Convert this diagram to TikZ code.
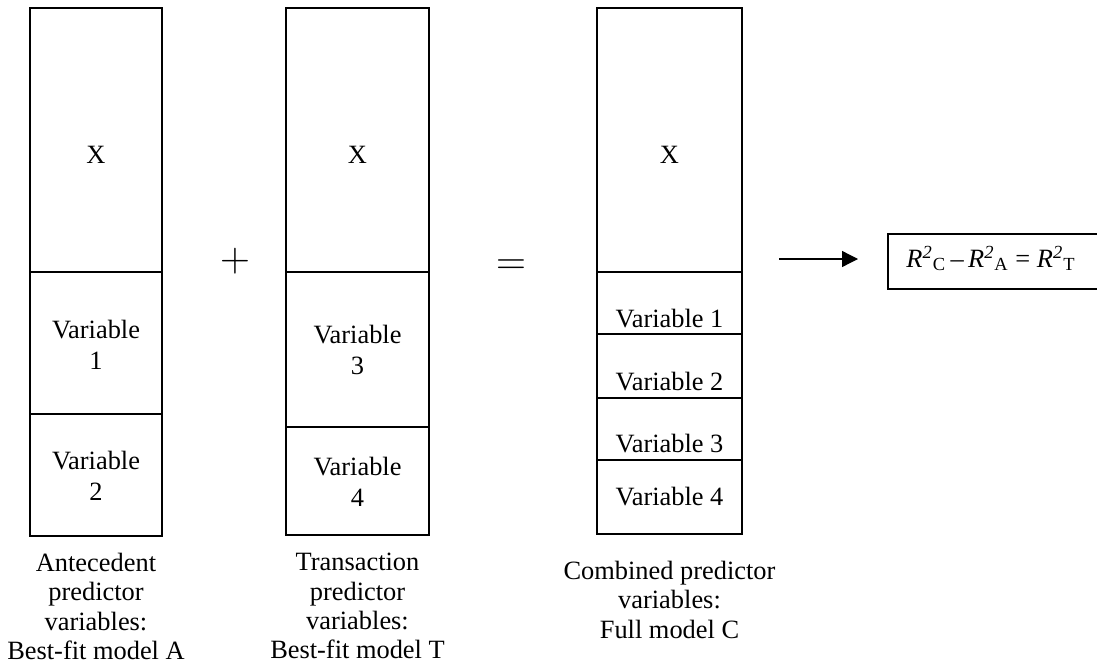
\documentclass[tikz,border=0pt]{standalone}
\usepackage{fontspec}
\setmainfont{Liberation Serif}
\usetikzlibrary{arrows.meta}
\begin{document}
\begin{tikzpicture}[x=0.5pt,y=-0.5pt,
  box/.style={draw, line width=0.85pt},
  txt/.style={font=\fontsize{13.2}{15.5}\selectfont, align=center, inner sep=0pt},
  lbl/.style={font=\fontsize{13.2}{14.6}\selectfont, align=center, inner sep=0pt, anchor=north},
  sym/.style={font=\fontsize{19.5}{20}\selectfont, inner sep=0pt},
  arr/.style={line width=0.65pt, -{Triangle[length=8pt,width=8pt]}}]
\useasboundingbox (0,0) rectangle (1097,669);
% Column A
\draw[box] (30,8) rectangle (162,536);
\draw[box] (30,272) -- (162,272);
\draw[box] (30,414) -- (162,414);
\node[txt] (ax) at (96,155) {X};
\node[txt] (av1) at (96,345) {Variable\\1};
\node[txt] (av2) at (96,476) {Variable\\2};
\node[lbl] (alab) at (96,553) {Antecedent\\predictor\\variables:\\Best-fit model A};
% Column T
\draw[box] (286,8) rectangle (429,535);
\draw[box] (286,272) -- (429,272);
\draw[box] (286,427) -- (429,427);
\node[txt] (tx) at (357.5,155) {X};
\node[txt] (tv3) at (357.5,350) {Variable\\3};
\node[txt] (tv4) at (357.5,482) {Variable\\4};
\node[lbl] (tlab) at (357.5,553) {Transaction\\predictor\\variables:\\Best-fit model T};
% Column C
\draw[box] (597,8) rectangle (742,534);
\draw[box] (597,272) -- (742,272);
\draw[box] (597,334) -- (742,334);
\draw[box] (597,398) -- (742,398);
\draw[box] (597,460) -- (742,460);
\node[txt] (cx) at (669.5,155) {X};
\node[txt] (cv1) at (669.5,319) {Variable 1};
\node[txt] (cv2) at (669.5,382) {Variable 2};
\node[txt] (cv3) at (669.5,444) {Variable 3};
\node[txt] (cv4) at (669.5,497) {Variable 4};
\node[lbl] (clab) at (669.5,561) {Combined predictor\\variables:\\Full model C};
% operators
\node[sym] (plus) at (235,261) {$+$};
\node[sym] (eq) at (511,267) {$=$};
% arrow
\coordinate (arrS) at (779,259);
\coordinate (arrE) at (858,259);
\draw[arr] (arrS) -- (arrE);
% formula box
\draw[box] (888,234) rectangle (1102,289);
\node[txt, anchor=base] (form) at (991,267) {\textit{R}\textsuperscript{\textit{2}}\textsubscript{C}\,–\,\textit{R}\textsuperscript{\textit{2}}\textsubscript{A} = \textit{R}\textsuperscript{\textit{2}}\textsubscript{T}};
\end{tikzpicture}
\end{document}
